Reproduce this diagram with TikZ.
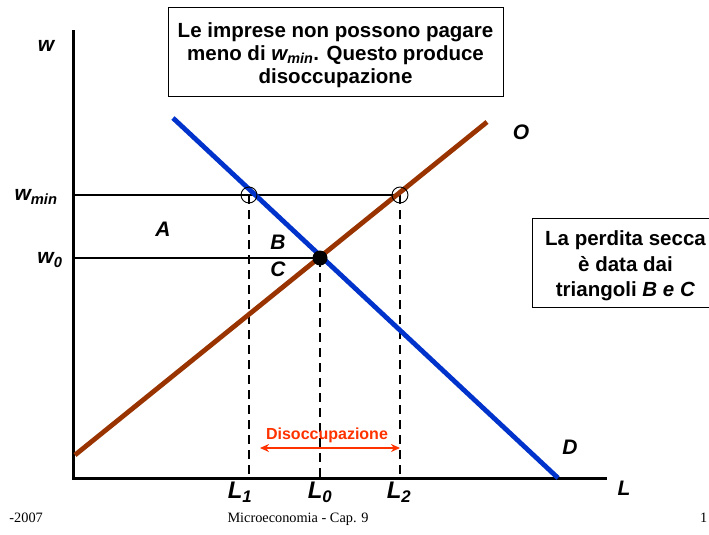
\documentclass[tikz,border=0pt]{standalone}
\usepackage{fontspec}
\setmainfont{Liberation Sans}
\newfontfamily\timesf{Liberation Serif}
\usetikzlibrary{arrows.meta}
\definecolor{dblue}{RGB}{0,51,204}
\definecolor{sbrown}{RGB}{153,51,0}
\definecolor{uorange}{RGB}{255,51,0}
\begin{document}
\begin{tikzpicture}[x=1pt,y=-1pt,
  axis/.style={line width=3pt, line cap=rect},
  guide/.style={line width=2pt},
  dashguide/.style={line width=2.2pt, dash pattern=on 9pt off 6pt},
  demand/.style={line width=4.8pt, dblue},
  supply/.style={line width=4.8pt, sbrown},
  lbl/.style={font=\bfseries\itshape\fontsize{21}{23}\selectfont, inner sep=0pt},
  biglbl/.style={font=\bfseries\itshape\fontsize{24}{26}\selectfont, inner sep=0pt},
  boxframe/.style={draw, line width=1pt},
  boxtext/.style={align=center, font=\bfseries\fontsize{20.5}{23}\selectfont, inner sep=0pt},
  foot/.style={font=\timesf\fontsize{14.3}{16}\selectfont, inner sep=0pt},
  opendot/.style={circle, draw, line width=0.9pt, minimum size=16pt, inner sep=0pt},
  fulldot/.style={circle, fill=black, minimum size=15pt, inner sep=0pt}
]
\useasboundingbox (0,0) rectangle (709,535);
\fill[white] (0,0) rectangle (709,535);

% axes
\coordinate (ytop) at (73,32);
\coordinate (origin) at (73,478);
\coordinate (xend) at (605,478);
\draw[axis] (ytop) -- (origin) -- (xend);

% key points
\coordinate (wminax) at (73,195);
\coordinate (w0ax) at (73,258);
\coordinate (l1ax) at (249,478);
\coordinate (l0ax) at (320,478);
\coordinate (l2ax) at (400,478);
\coordinate (p1) at (249,195);
\coordinate (p2) at (400,195);
\coordinate (eq) at (320,258);

% guide lines
\draw[guide] (wminax) -- (p2);
\draw[guide] (w0ax) -- (eq);
\draw[dashguide] (p1) -- (l1ax);
\draw[dashguide] (eq) -- (l0ax);
\draw[dashguide] (p2) -- (l2ax);

% curves
\coordinate (dstart) at (173,118);
\coordinate (dend) at (558,478);
\coordinate (sstart) at (75,455);
\coordinate (send) at (487,122);
\draw[supply] (sstart) -- (send);
\draw[demand] (dstart) -- (dend);

% points
\node[opendot] (c1) at (p1) {};
\node[opendot] (c2) at (p2) {};
\node[fulldot] (ce) at (eq) {};

% axis labels
\node[lbl] (lw) at (46,46) {w};
\node[lbl] (lwmin) at (36,197) {w\textsubscript{min}};
\node[lbl] (lw0) at (50,260) {w\textsubscript{0}};
\node[biglbl] (lL1) at (240,492) {L\textsubscript{1}};
\node[biglbl] (lL0) at (320,492) {L\textsubscript{0}};
\node[biglbl] (lL2) at (399,492) {L\textsubscript{2}};
\node[lbl] (lL) at (624,488) {L};
\node[lbl] (lO) at (521,132) {O};
\node[lbl] (lD) at (570,447) {D};
\node[lbl] (lA) at (163,229) {A};
\node[lbl] (lB) at (278,242) {B};
\node[lbl] (lC) at (278,269) {C};

% unemployment
\node[font=\bfseries\fontsize{16}{18}\selectfont, text=uorange, inner sep=0pt] (dis) at (327,435) {Disoccupazione};
\coordinate (aleft) at (260,448);
\coordinate (aright) at (400,448);
\draw[uorange, line width=2pt, {Stealth[length=9pt,width=8pt]}-{Stealth[length=9pt,width=8pt]}] (aleft) -- (aright);

% boxes
\draw[boxframe] (168,8) rectangle (503,96);
\node[boxtext] (topbox) at (335.5,55)
  {Le imprese non possono pagare\\meno di \textit{w\textsubscript{min}}. Questo produce\\disoccupazione};
\draw[boxframe] (532,218) rectangle (722,307);
\node[boxtext, font=\bfseries\fontsize{20.5}{25.5}\selectfont] (rbox) at (625.5,266)
  {La perdita secca\\è data dai\\triangoli \textit{B e C}};

% footer
\node[foot, anchor=base east] (fl) at (43,522) {-2007};
\node[foot, anchor=base] (fc) at (298,522) {Microeconomia - Cap. 9};
\node[foot, anchor=base west] (fr) at (700,522) {1};
\end{tikzpicture}
\end{document}
